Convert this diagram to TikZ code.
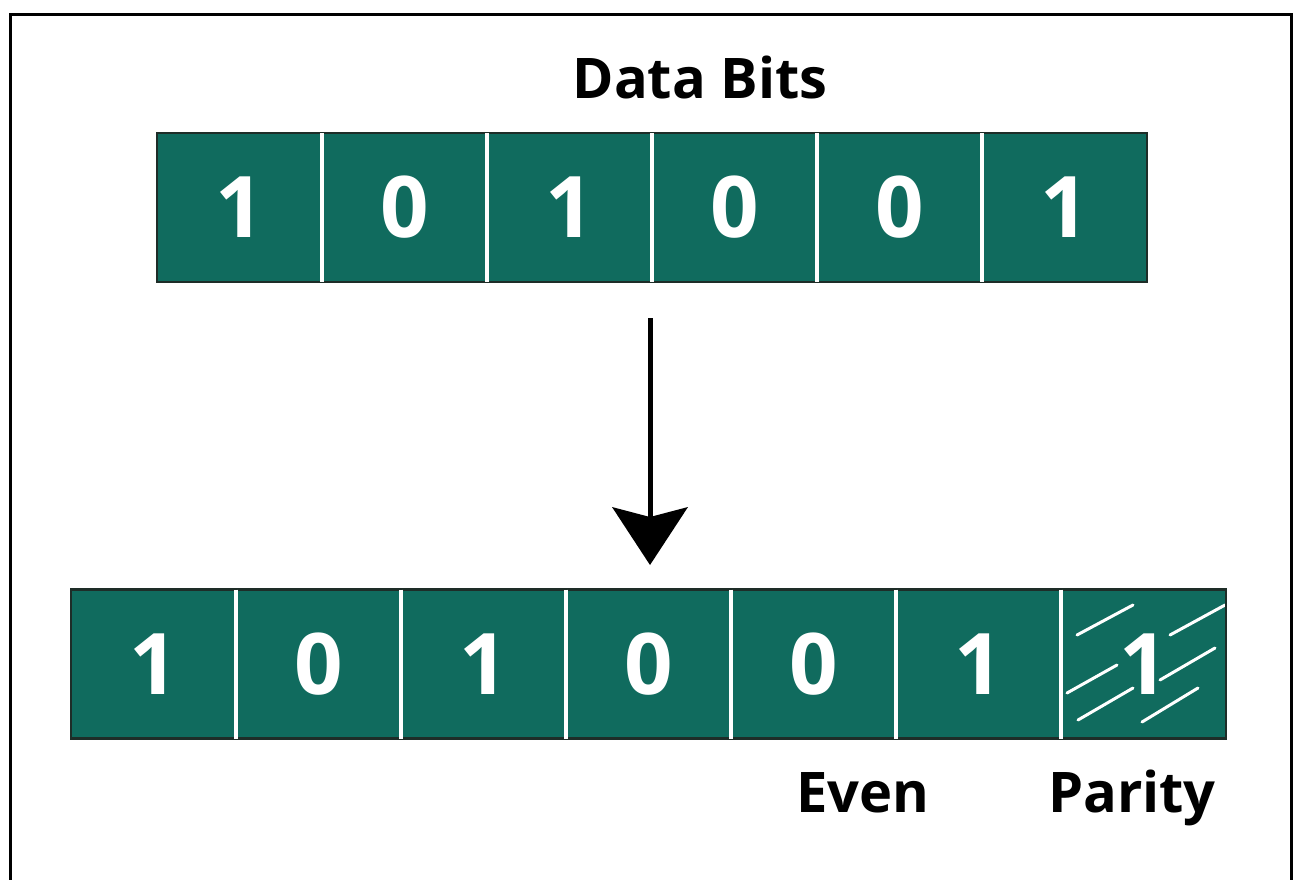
\documentclass[tikz,border=0pt]{standalone}
\usepackage{fontspec}
\setmainfont{Open Sans}
\definecolor{teal}{RGB}{16,107,94}
\definecolor{edge}{RGB}{30,45,40}
\begin{document}
\begin{tikzpicture}[x=1pt,y=-1pt,
  cell/.style={fill=teal, minimum width=165pt, minimum height=149pt, inner sep=0pt, outer sep=0pt, text=white, font=\fontsize{85}{85}\selectfont\bfseries},
  divider/.style={white, line width=4pt},
  barframe/.style={draw=edge, line width=2.5pt},
  label/.style={font=\fontsize{56}{56}\selectfont\bfseries, text=black, inner sep=0pt, anchor=base},
  hatch/.style={white, line width=3pt, line cap=round}]
\useasboundingbox (0,0) rectangle (1293,879);
\draw[line width=3pt] (10,880) -- (10,14) -- (1291,14) -- (1291,880);
% top bar
\foreach \i/\b in {1/1,2/0,3/1,4/0,5/0,6/1}{
  \node[cell] (t\i) at ({157+165*(\i-0.5)},207.5) {\b};
}
\draw[barframe] (t1.north west) rectangle (t6.south east);
\foreach \i [evaluate=\i as \j using int(\i+1)] in {1,...,5}{
  \draw[divider] (t\i.north east) -- (t\i.south east);
}
% bottom bar
\foreach \i/\b in {1/1,2/0,3/1,4/0,5/0,6/1,7/{}}{
  \node[cell] (b\i) at ({71+165*(\i-0.5)},664) {\b};
}
\draw[hatch] (1077,635) -- (1133,605);
\draw[hatch] (1170,635) -- (1225,605);
\draw[hatch] (1067,693) -- (1117,665);
\draw[hatch] (1160,680) -- (1215,648);
\draw[hatch] (1078,720) -- (1133,688);
\draw[hatch] (1142,722) -- (1198,688);
\node[cell, fill=none] (p1) at (b7) {1};
\draw[barframe] (b1.north west) rectangle (b7.south east);
\foreach \i in {1,...,6}{
  \draw[divider] (b\i.north east) -- (b\i.south east);
}
% labels
\node[label] (title) at (700,98) {Data Bits};
\node[label] (even) at (863,812) {Even};
\node[label] (parity) at (1132,812) {Parity};
% arrow
\coordinate (astart) at (650,318);
\coordinate (atip) at (650,565);
\draw[line width=5pt] (astart) -- ([yshift=-10pt]atip |- 0,517);
\fill (atip) -- (612,507) -- (650,517) -- (688,507) -- cycle;
\end{tikzpicture}
\end{document}
